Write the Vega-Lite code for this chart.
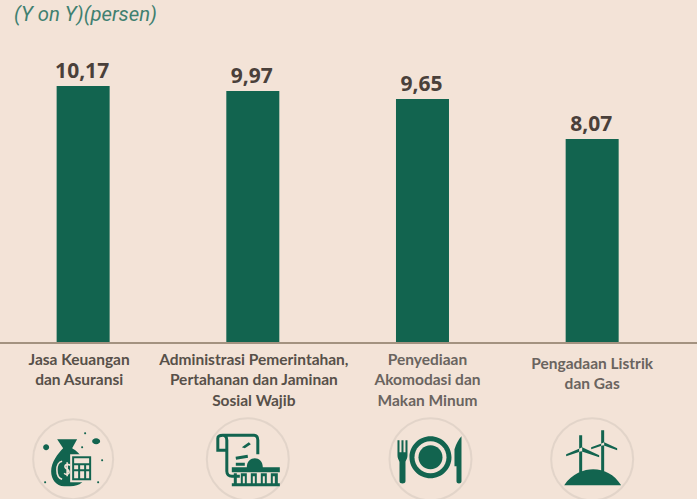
{"$schema":"https://vega.github.io/schema/vega-lite/v6.json","width":697,"height":343,"autosize":"none","padding":{"left":0,"top":0,"right":0,"bottom":156},"background":"#f3e3d7",
"title":{"text":"(Y on Y)(persen)","anchor":"start","frame":"group","orient":"top","offset":-25,"dx":14,"font":"Roboto","fontSize":20.3,"fontStyle":"italic","fontWeight":"normal","color":"#3f8070"},
"config":{"view":{"stroke":null}},
"data":{"values":[
{"kategori":"Jasa Keuangan\ndan Asuransi","nilai":10.17,"teks":"10,17"},
{"kategori":"Administrasi Pemerintahan,\nPertahanan dan Jaminan\nSosial Wajib","nilai":9.97,"teks":"9,97"},
{"kategori":"Penyediaan\nAkomodasi dan\nMakan Minum","nilai":9.65,"teks":"9,65"},
{"kategori":"Pengadaan Listrik\ndan Gas","nilai":8.07,"teks":"8,07"}]},
"layer":[
{"mark":{"type":"bar","size":53,"color":"#12644f"},"encoding":{
"x":{"field":"kategori","type":"nominal","sort":null,"scale":{"range":[-1.7,677],"paddingInner":0,"paddingOuter":0},
"axis":{"title":null,"domain":false,"ticks":false,"grid":false,"labelAngle":0,"labelAlign":"center","labelBaseline":"top","labelFont":"Lato","labelFontWeight":"bold","labelFontSize":15.5,"labelLineHeight":20.5,"labelLimit":0,"labelOverlap":false,"labelExpr":"split(datum.label,'\\n')",
"labelPadding":{"condition":{"test":"indexof(datum.value,'Pengadaan')==0","value":13},"value":9},
"labelOffset":{"condition":[{"test":"indexof(datum.value,'Jasa')==0","value":-4},{"test":"indexof(datum.value,'Admin')==0","value":1},{"test":"indexof(datum.value,'Penyediaan')==0","value":5}],"value":0},
"labelColor":{"condition":{"test":"indexof(datum.value,'Peny')==0||indexof(datum.value,'Peng')==0","value":"#6a645f"},"value":"#575049"}}},
"y":{"field":"nilai","type":"quantitative","axis":null,"scale":{"domain":[0,13.57],"nice":false,"zero":true}}}},
{"mark":{"type":"rule","color":"#a39280","strokeWidth":2},"encoding":{"y":{"datum":0}}},
{"mark":{"type":"text","baseline":"alphabetic","dy":-8,"dx":-1,"font":"Open Sans","fontWeight":"bold","fontSize":21,"color":"#4a403a"},"encoding":{"x":{"field":"kategori","type":"nominal","sort":null},"y":{"field":"nilai","type":"quantitative"},"text":{"field":"teks"}}},

{"transform":[{"filter":"indexof(datum.kategori,'Jasa')==0"}],"encoding":{"x":{"field":"kategori","type":"nominal","sort":null},"y":{"datum":-4.6}},"layer":[
{"mark":{"type":"point","shape":"circle","size":6400,"filled":false,"stroke":"#dccfc4","strokeWidth":2,"xOffset":-10}},
{"mark":{"type":"point","filled":true,"size":4,"xOffset":-10,"color":"#12644f","opacity":1,"shape":"M-16-20L4-20L-1-11C8-6 13 4 13 12C13 22 7 27-3 27L-9 27C-17 27-22 20-22 12C-22 3-15-6-10-11ZM-30-12A3 3 0 1 0-24-12A3 3 0 1 0-30-12ZM19-18A4 3 0 1 0 27-18A4 3 0 1 0 19-18ZM11-26A1 1 0 1 0 13-26A1 1 0 1 0 11-26ZM28 1A1 1 0 1 0 30 1A1 1 0 1 0 28 1ZM24 23A1 1 0 1 0 26 23A1 1 0 1 0 24 23ZM-29 23A1 1 0 1 0-27 23A1 1 0 1 0-29 23ZM8-12A1 1 0 1 0 10-12A1 1 0 1 0 8-12Z"}},
{"mark":{"type":"point","filled":true,"size":4,"xOffset":-10,"color":"#f3e3d7","opacity":1,"shape":"M-3-5L20-5L20 23L-3 23Z"}},
{"mark":{"type":"point","filled":true,"size":4,"xOffset":-10,"color":"#12644f","opacity":1,"shape":"M-1-3L18-3L18 21L-1 21Z"}},
{"mark":{"type":"point","filled":true,"size":4,"xOffset":-10,"color":"#f3e3d7","opacity":1,"shape":"M1-1L16-1L16 4L1 4ZM1 6L5 6L5 10L1 10ZM7 6L11 6L11 10L7 10ZM13 6L16 6L16 10L13 10ZM1 12L5 12L5 19L1 19ZM7 12L11 12L11 19L7 19ZM13 12L16 12L16 19L13 19Z"}},
{"mark":{"type":"point","filled":false,"size":4,"xOffset":-10,"stroke":"#f3e3d7","strokeWidth":1.6,"opacity":1,"shape":"M-11 2C-18 3-18 18-11 20M-3 6C-6 4-9 6-8 8C-7 10-4 10-4 13C-4 15-7 16-9 14M-6 3L-6 17"}}]},

{"transform":[{"filter":"indexof(datum.kategori,'Admin')==0"}],"encoding":{"x":{"field":"kategori","type":"nominal","sort":null},"y":{"datum":-4.6}},"layer":[
{"mark":{"type":"point","shape":"circle","size":6724,"filled":false,"stroke":"#dccfc4","strokeWidth":2,"xOffset":-5}},
{"mark":{"type":"point","filled":false,"size":4,"xOffset":-5,"stroke":"#12644f","strokeWidth":3,"opacity":1,"shape":"M-21-9L-30-9L-30-21C-30-24-27-24-25-24L6-24C9-24 10-22 10-19L10-5M-25-24C-22-24-21-22-21-19L-21 12C-21 15-19 17-16 17L-8 17M-12-1L0-3M-12 5L-3 5M-12 11L-6 11"}},
{"mark":{"type":"point","filled":true,"size":4,"xOffset":-5,"color":"#12644f","opacity":1,"shape":"M-6-12L1-17L3-15L-3-11ZM-1 8C-1-4 15-4 15 8ZM-16 8L32 8L32 13L-16 13ZM-16 24L32 24L32 27L-16 27ZM-14 14L-11 14L-11 24L-14 24ZM-7 14L-1 14L-1 24L-7 24ZM3 14L9 14L9 24L3 24ZM13 14L19 14L19 24L13 24ZM23 14L30 14L30 24L23 24Z"}},
{"mark":{"type":"point","filled":true,"size":4,"xOffset":-5,"color":"#f3e3d7","opacity":1,"shape":"M-5 17L-3 17L-3 24L-5 24ZM5 17L7 17L7 24L5 24ZM15 17L17 17L17 24L15 24ZM25 17L27 17L27 24L25 24Z"}}]},

{"transform":[{"filter":"indexof(datum.kategori,'Penyediaan')==0"}],"encoding":{"x":{"field":"kategori","type":"nominal","sort":null},"y":{"datum":-4.6}},"layer":[
{"mark":{"type":"point","shape":"circle","size":6724,"filled":false,"stroke":"#dccfc4","strokeWidth":2,"xOffset":8}},
{"mark":{"type":"point","filled":true,"size":4,"xOffset":8,"color":"#12644f","opacity":1,"shape":"M-33-19L-31-19L-31-7L-29-7L-29-19L-27-19L-27-7L-25-7L-25-19L-23-19L-23-4C-23 0-25 1-25 3L-25 22C-25 25-31 25-31 22L-31 3C-31 1-33 0-33-4ZM-21-2A21 21 0 1 0 21-2A21 21 0 1 0-21-2ZM24-10C26-16 28-20 31-23L31 22C31 25 26 25 26 22L26 7L24 7Z"}},
{"mark":{"type":"point","filled":true,"size":4,"xOffset":8,"color":"#f3e3d7","opacity":1,"shape":"M-16-2A16 16 0 1 0 16-2A16 16 0 1 0-16-2Z"}},
{"mark":{"type":"point","filled":true,"size":4,"xOffset":8,"color":"#12644f","opacity":1,"shape":"M-12-2A12 12 0 1 0 12-2A12 12 0 1 0-12-2Z"}}]},

{"transform":[{"filter":"indexof(datum.kategori,'Pengadaan')==0"}],"encoding":{"x":{"field":"kategori","type":"nominal","sort":null},"y":{"datum":-4.6}},"layer":[
{"mark":{"type":"point","shape":"circle","size":6724,"filled":false,"stroke":"#dccfc4","strokeWidth":2}},
{"mark":{"type":"point","filled":true,"size":4,"color":"#12644f","opacity":1,"shape":"M-28 26C-20 14-8 10 1 10C12 10 22 15 29 26ZM-13-9L-13-24L-10-24L-10 15L-13 15ZM-12-11L-26-5L-26-3L-11-8L7-2L7-4L-10-12ZM9-14L9-29L12-29L12 12L9 12ZM10-16L-1-12L-1-10L11-14L25-9L25-11L12-17Z"}}]}
]}
